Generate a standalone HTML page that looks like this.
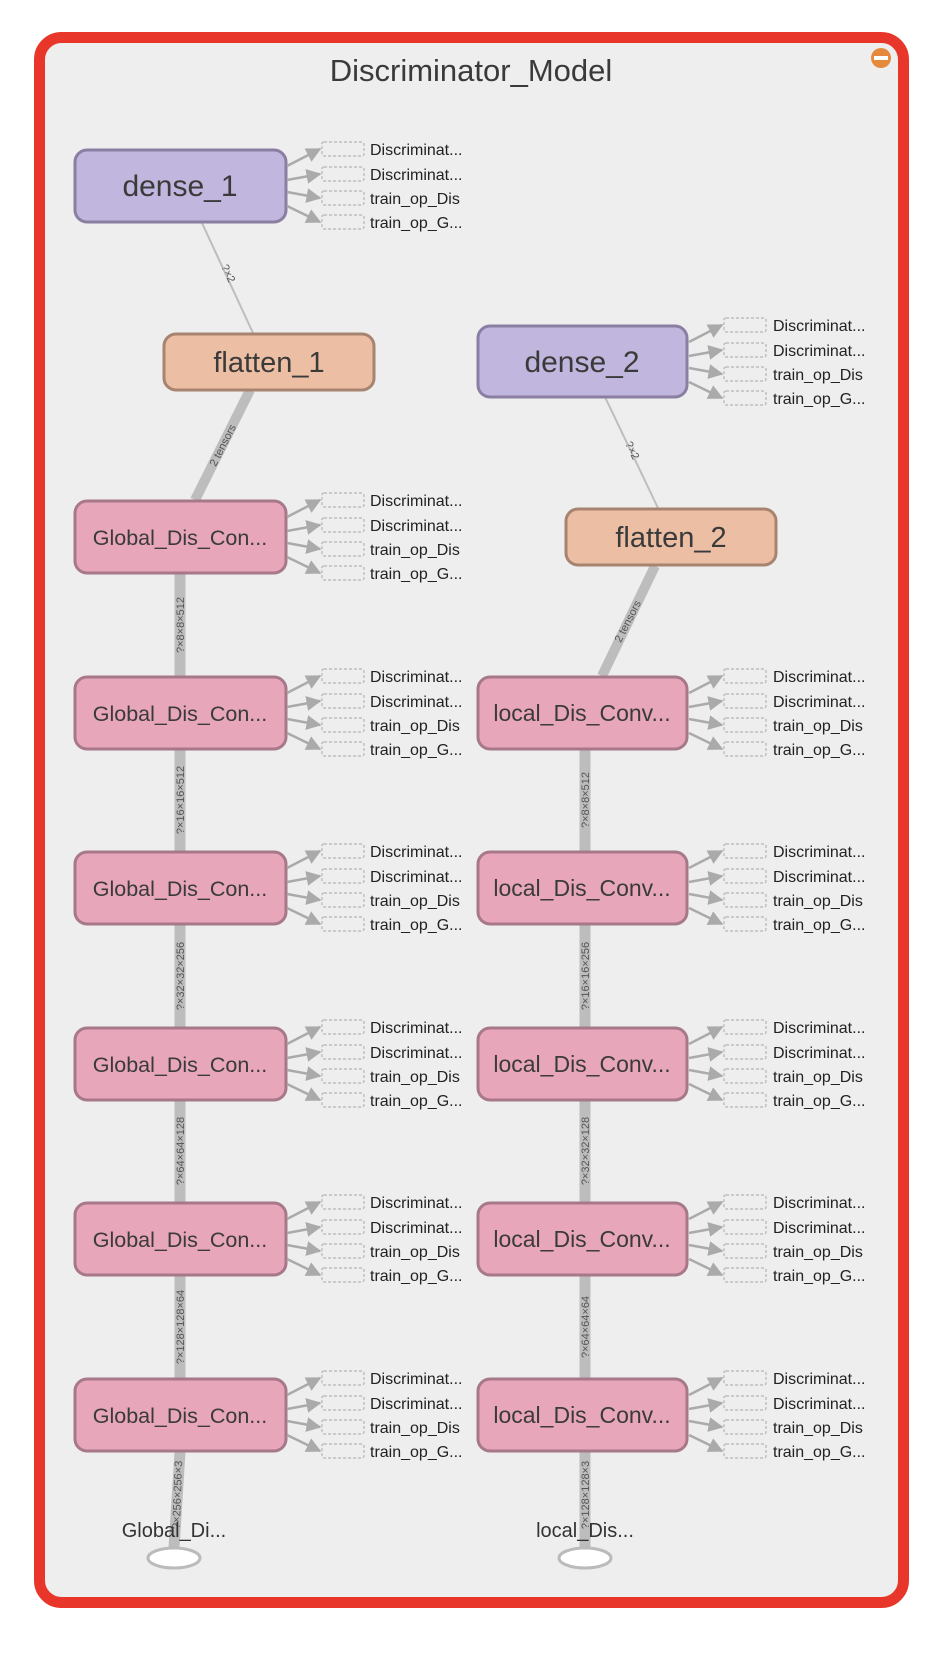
<!DOCTYPE html>
<html><head><meta charset="utf-8"><style>
html,body{margin:0;padding:0;background:#fff;}
svg{display:block;font-family:"Liberation Sans",sans-serif;}
.st{font-size:16px;fill:#222;}
.el{font-size:11px;fill:#555;}
</style></head><body>
<svg width="936" height="1654" viewBox="0 0 936 1654" xmlns="http://www.w3.org/2000/svg">
<defs>
<marker id="ah" viewBox="0 0 10 10" refX="9" refY="5" markerWidth="6" markerHeight="6" orient="auto" markerUnits="strokeWidth">
<path d="M0,0 L10,5 L0,10 z" fill="#aaa"/></marker>
<g id="stub">
<g stroke="#aaa" stroke-width="2.5" fill="none">
<line x1="0" y1="-20" x2="33" y2="-37" marker-end="url(#ah)"/>
<line x1="0" y1="-6" x2="33" y2="-12" marker-end="url(#ah)"/>
<line x1="0" y1="6" x2="33" y2="12" marker-end="url(#ah)"/>
<line x1="0" y1="20" x2="33" y2="36" marker-end="url(#ah)"/>
</g>
<g stroke="#b5b5b5" stroke-width="1.2" stroke-dasharray="3,2" fill="none">
<rect x="35" y="-44" width="42" height="14" rx="2"/>
<rect x="35" y="-19" width="42" height="14" rx="2"/>
<rect x="35" y="5" width="42" height="14" rx="2"/>
<rect x="35" y="29" width="42" height="14" rx="2"/>
</g>
</g>
</defs>
<rect x="39.5" y="37.5" width="864" height="1565" rx="22" fill="#eeeeee" stroke="#e8372a" stroke-width="11"/>
<text x="471" y="81" font-size="31" fill="#3a3a3a" text-anchor="middle">Discriminator_Model</text>
<circle cx="881" cy="58" r="10" fill="#e58a3c"/>
<rect x="874" y="56" width="14" height="4" fill="#fff"/>

<g stroke="#bdbdbd" fill="none">
<line x1="202" y1="223" x2="253" y2="333" stroke-width="2"/>
<line x1="605" y1="397" x2="658" y2="508" stroke-width="2"/>
<line x1="250" y1="390" x2="195" y2="500" stroke-width="10"/>
<line x1="655" y1="566" x2="602" y2="676" stroke-width="10"/>
<line x1="180" y1="574" x2="180" y2="676" stroke-width="11"/>
<line x1="180" y1="750" x2="180" y2="851" stroke-width="11"/>
<line x1="180" y1="925" x2="180" y2="1027" stroke-width="11"/>
<line x1="180" y1="1101" x2="180" y2="1202" stroke-width="11"/>
<line x1="180" y1="1276" x2="180" y2="1378" stroke-width="11"/>
<line x1="180" y1="1452" x2="174" y2="1548" stroke-width="11"/>
<line x1="585" y1="750" x2="585" y2="851" stroke-width="11"/>
<line x1="585" y1="925" x2="585" y2="1027" stroke-width="11"/>
<line x1="585" y1="1101" x2="585" y2="1202" stroke-width="11"/>
<line x1="585" y1="1276" x2="585" y2="1378" stroke-width="11"/>
<line x1="585" y1="1452" x2="585" y2="1548" stroke-width="11"/>
</g>
<g class="el" text-anchor="middle">
<text transform="translate(225,275) rotate(65)">?×2</text>
<text transform="translate(629,452) rotate(64)">?×2</text>
<text transform="translate(226,447) rotate(-63)">2 tensors</text>
<text transform="translate(631,623) rotate(-63)">2 tensors</text>
<text transform="translate(184,625) rotate(-90)">?×8×8×512</text>
<text transform="translate(184,800) rotate(-90)">?×16×16×512</text>
<text transform="translate(184,976) rotate(-90)">?×32×32×256</text>
<text transform="translate(184,1151) rotate(-90)">?×64×64×128</text>
<text transform="translate(184,1327) rotate(-90)">?×128×128×64</text>
<text transform="translate(181,1495) rotate(-88)">?×256×256×3</text>
<text transform="translate(589,800) rotate(-90)">?×8×8×512</text>
<text transform="translate(589,976) rotate(-90)">?×16×16×256</text>
<text transform="translate(589,1151) rotate(-90)">?×32×32×128</text>
<text transform="translate(589,1327) rotate(-90)">?×64×64×64</text>
<text transform="translate(589,1495) rotate(-90)">?×128×128×3</text>
</g>

<text x="174" y="1537" font-size="20" fill="#333" text-anchor="middle">Global_Di...</text>
<text x="585" y="1537" font-size="20" fill="#333" text-anchor="middle">local_Dis...</text>
<ellipse cx="174" cy="1558" rx="26" ry="10" fill="#fff" stroke="#bbb" stroke-width="3"/>
<ellipse cx="585" cy="1558" rx="26" ry="10" fill="#fff" stroke="#bbb" stroke-width="3"/>

<g stroke-width="3">
<rect x="75" y="150" width="211" height="72" rx="12" fill="#c1b6dd" stroke="#8a7fa3"/>
<rect x="478" y="326" width="209" height="71" rx="12" fill="#c1b6dd" stroke="#8a7fa3"/>
<rect x="164" y="334" width="210" height="56" rx="12" fill="#ecbfa4" stroke="#a78470"/>
<rect x="566" y="509" width="210" height="56" rx="12" fill="#ecbfa4" stroke="#a78470"/>
<g fill="#e8a6bb" stroke="#a77889">
<rect x="75" y="501" width="211" height="72" rx="12"/>
<rect x="75" y="677" width="211" height="72" rx="12"/>
<rect x="75" y="852" width="211" height="72" rx="12"/>
<rect x="75" y="1028" width="211" height="72" rx="12"/>
<rect x="75" y="1203" width="211" height="72" rx="12"/>
<rect x="75" y="1379" width="211" height="72" rx="12"/>
<rect x="478" y="677" width="209" height="72" rx="12"/>
<rect x="478" y="852" width="209" height="72" rx="12"/>
<rect x="478" y="1028" width="209" height="72" rx="12"/>
<rect x="478" y="1203" width="209" height="72" rx="12"/>
<rect x="478" y="1379" width="209" height="72" rx="12"/>
</g>
</g>
<g fill="#3a3a3a" text-anchor="middle">
<text x="180" y="196" font-size="30">dense_1</text>
<text x="582" y="372" font-size="30">dense_2</text>
<text x="269" y="372" font-size="29">flatten_1</text>
<text x="671" y="547" font-size="29">flatten_2</text>
<g font-size="21.5">
<text x="180" y="545">Global_Dis_Con...</text>
<text x="180" y="721">Global_Dis_Con...</text>
<text x="180" y="896">Global_Dis_Con...</text>
<text x="180" y="1072">Global_Dis_Con...</text>
<text x="180" y="1247">Global_Dis_Con...</text>
<text x="180" y="1423">Global_Dis_Con...</text>
</g>
<g font-size="23">
<text x="582" y="721">local_Dis_Conv...</text>
<text x="582" y="896">local_Dis_Conv...</text>
<text x="582" y="1072">local_Dis_Conv...</text>
<text x="582" y="1247">local_Dis_Conv...</text>
<text x="582" y="1423">local_Dis_Conv...</text>
</g>
</g>

<use href="#stub" transform="translate(287,186)"/>
<use href="#stub" transform="translate(689,362)"/>
<use href="#stub" transform="translate(287,537)"/>
<use href="#stub" transform="translate(287,713)"/>
<use href="#stub" transform="translate(287,888)"/>
<use href="#stub" transform="translate(287,1064)"/>
<use href="#stub" transform="translate(287,1239)"/>
<use href="#stub" transform="translate(287,1415)"/>
<use href="#stub" transform="translate(689,713)"/>
<use href="#stub" transform="translate(689,888)"/>
<use href="#stub" transform="translate(689,1064)"/>
<use href="#stub" transform="translate(689,1239)"/>
<use href="#stub" transform="translate(689,1415)"/>

<g class="st">
<text x="370" y="155">Discriminat...</text><text x="370" y="180">Discriminat...</text><text x="370" y="204">train_op_Dis</text><text x="370" y="228">train_op_G...</text>
<text x="773" y="331">Discriminat...</text><text x="773" y="356">Discriminat...</text><text x="773" y="380">train_op_Dis</text><text x="773" y="404">train_op_G...</text>
<text x="370" y="506">Discriminat...</text><text x="370" y="531">Discriminat...</text><text x="370" y="555">train_op_Dis</text><text x="370" y="579">train_op_G...</text>
<text x="370" y="682">Discriminat...</text><text x="370" y="707">Discriminat...</text><text x="370" y="731">train_op_Dis</text><text x="370" y="755">train_op_G...</text>
<text x="370" y="857">Discriminat...</text><text x="370" y="882">Discriminat...</text><text x="370" y="906">train_op_Dis</text><text x="370" y="930">train_op_G...</text>
<text x="370" y="1033">Discriminat...</text><text x="370" y="1058">Discriminat...</text><text x="370" y="1082">train_op_Dis</text><text x="370" y="1106">train_op_G...</text>
<text x="370" y="1208">Discriminat...</text><text x="370" y="1233">Discriminat...</text><text x="370" y="1257">train_op_Dis</text><text x="370" y="1281">train_op_G...</text>
<text x="370" y="1384">Discriminat...</text><text x="370" y="1409">Discriminat...</text><text x="370" y="1433">train_op_Dis</text><text x="370" y="1457">train_op_G...</text>
<text x="773" y="682">Discriminat...</text><text x="773" y="707">Discriminat...</text><text x="773" y="731">train_op_Dis</text><text x="773" y="755">train_op_G...</text>
<text x="773" y="857">Discriminat...</text><text x="773" y="882">Discriminat...</text><text x="773" y="906">train_op_Dis</text><text x="773" y="930">train_op_G...</text>
<text x="773" y="1033">Discriminat...</text><text x="773" y="1058">Discriminat...</text><text x="773" y="1082">train_op_Dis</text><text x="773" y="1106">train_op_G...</text>
<text x="773" y="1208">Discriminat...</text><text x="773" y="1233">Discriminat...</text><text x="773" y="1257">train_op_Dis</text><text x="773" y="1281">train_op_G...</text>
<text x="773" y="1384">Discriminat...</text><text x="773" y="1409">Discriminat...</text><text x="773" y="1433">train_op_Dis</text><text x="773" y="1457">train_op_G...</text>
</g>
</svg>
</body></html>
